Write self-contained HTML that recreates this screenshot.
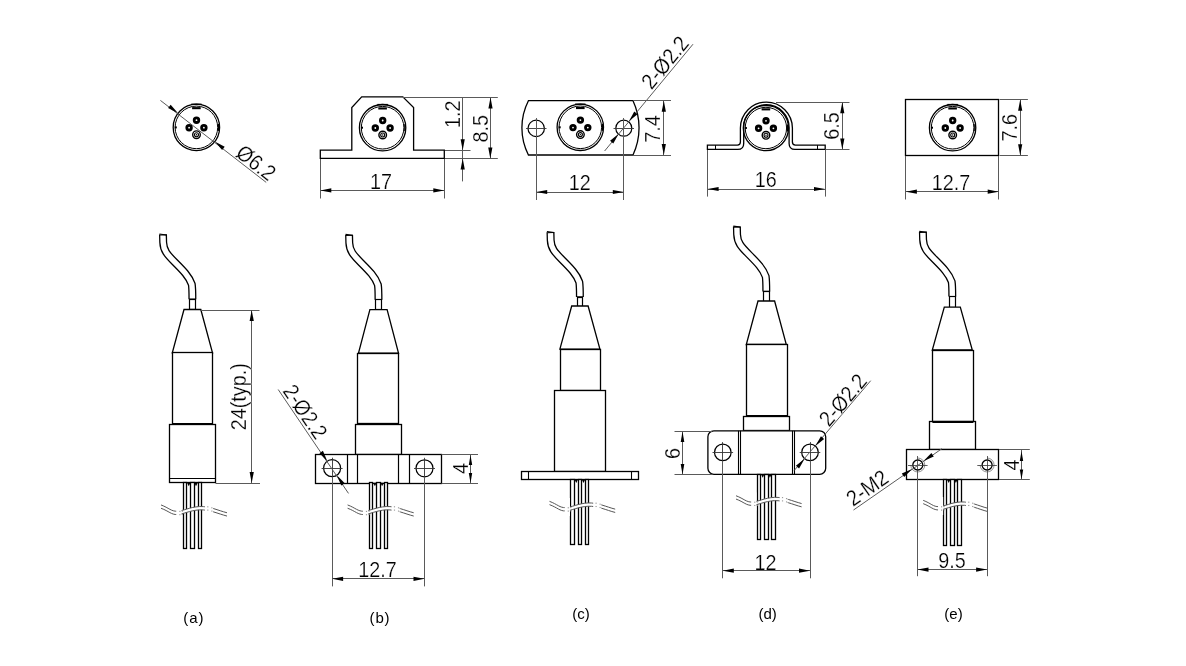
<!DOCTYPE html><html><head><meta charset="utf-8"><style>html,body{margin:0;padding:0;background:#fff;width:1186px;height:666px;overflow:hidden}svg{display:block;filter:grayscale(1);font-family:"Liberation Sans",sans-serif}</style></head><body><svg width="1186" height="666" viewBox="0 0 1186 666" font-family="Liberation Sans, sans-serif">
<rect width="1186" height="666" fill="#fff"/>
<circle cx="196.4" cy="127.4" r="23.2" fill="none" stroke="#000" stroke-width="1.3"/>
<circle cx="196.4" cy="127.4" r="21.3" fill="none" stroke="#000" stroke-width="1.0"/>
<rect x="191.2" y="103.6" width="10.4" height="1.4" fill="#000"/>
<rect x="192.1" y="107.1" width="8.6" height="2.1" fill="#000"/>
<rect x="174.8" y="126.4" width="2" height="2" fill="#000"/>
<rect x="218" y="123.9" width="1.2" height="7" fill="#000"/>
<circle cx="196.5" cy="120.2" r="2.3" fill="none" stroke="#000" stroke-width="2.8"/>
<circle cx="189.1" cy="127.7" r="2.3" fill="none" stroke="#000" stroke-width="2.8"/>
<circle cx="203.9" cy="127.7" r="2.3" fill="none" stroke="#000" stroke-width="2.8"/>
<circle cx="196.5" cy="134.7" r="3.8" fill="none" stroke="#000" stroke-width="1.4"/>
<circle cx="196.5" cy="134.7" r="2" fill="none" stroke="#000" stroke-width="1.1"/>
<circle cx="196.5" cy="134.7" r="0.7" fill="#000"/>
<line x1="160.4" y1="100.4" x2="266.2" y2="182.4" stroke="#5a5a5a" stroke-width="1.0"/>
<polygon points="178.06,113.19 168.08,108.11 170.65,104.79" fill="#000"/>
<polygon points="214.74,141.61 224.72,146.69 222.15,150.01" fill="#000"/>
<text x="0" y="0" transform="translate(234.5,155.5) rotate(37.78) scale(0.9,1)" font-size="22" text-anchor="start" fill="#000" stroke="#fff" stroke-width="0.25" >&#216;6.2</text>
<polygon points="320.3,158.3 320.3,150.2 351.8,150.2 351.8,107.5 361.7,96.9 402.8,96.9 413.6,107.5 413.6,150.2 444.3,150.2 444.3,158.3" fill="none" stroke="#000" stroke-width="1.3" stroke-linejoin="miter"/>
<circle cx="382.6" cy="127.7" r="23.2" fill="none" stroke="#000" stroke-width="1.3"/>
<circle cx="382.6" cy="127.7" r="21.3" fill="none" stroke="#000" stroke-width="1.0"/>
<rect x="377.4" y="103.9" width="10.4" height="1.4" fill="#000"/>
<rect x="378.3" y="107.4" width="8.6" height="2.1" fill="#000"/>
<rect x="361" y="126.7" width="2" height="2" fill="#000"/>
<rect x="404.2" y="124.2" width="1.2" height="7" fill="#000"/>
<circle cx="382.7" cy="120.5" r="2.3" fill="none" stroke="#000" stroke-width="2.8"/>
<circle cx="375.3" cy="128" r="2.3" fill="none" stroke="#000" stroke-width="2.8"/>
<circle cx="390.1" cy="128" r="2.3" fill="none" stroke="#000" stroke-width="2.8"/>
<circle cx="382.7" cy="135" r="3.8" fill="none" stroke="#000" stroke-width="1.4"/>
<circle cx="382.7" cy="135" r="2" fill="none" stroke="#000" stroke-width="1.1"/>
<circle cx="382.7" cy="135" r="0.7" fill="#000"/>
<line x1="320.5" y1="159" x2="320.5" y2="198.5" stroke="#5a5a5a" stroke-width="1.0"/>
<line x1="444.5" y1="159" x2="444.5" y2="198.5" stroke="#5a5a5a" stroke-width="1.0"/>
<line x1="320.3" y1="190.5" x2="444.3" y2="190.5" stroke="#5a5a5a" stroke-width="1.0"/>
<polygon points="320.3,190.4 331.3,188.3 331.3,192.5" fill="#000"/>
<polygon points="444.3,190.4 433.3,192.5 433.3,188.3" fill="#000"/>
<text x="0" y="0" transform="translate(381,189.4) rotate(0) scale(0.9,1)" font-size="22" text-anchor="middle" fill="#000" stroke="#fff" stroke-width="0.25" >17</text>
<line x1="403" y1="97.5" x2="497.8" y2="97.5" stroke="#5a5a5a" stroke-width="1.0"/>
<line x1="445" y1="150.5" x2="470.5" y2="150.5" stroke="#5a5a5a" stroke-width="1.0"/>
<line x1="445" y1="158.5" x2="497.8" y2="158.5" stroke="#5a5a5a" stroke-width="1.0"/>
<line x1="462.5" y1="97.2" x2="462.5" y2="181.4" stroke="#5a5a5a" stroke-width="1.0"/>
<polygon points="462.7,150.2 460.6,139.2 464.8,139.2" fill="#000"/>
<polygon points="462.7,158.4 464.8,169.4 460.6,169.4" fill="#000"/>
<text x="0" y="0" transform="translate(459.5,114.2) rotate(-90) scale(0.9,1)" font-size="22" text-anchor="middle" fill="#000" stroke="#fff" stroke-width="0.25" >1.2</text>
<line x1="490.5" y1="97.5" x2="490.5" y2="158.4" stroke="#5a5a5a" stroke-width="1.0"/>
<polygon points="490.5,97.5 492.6,108.5 488.4,108.5" fill="#000"/>
<polygon points="490.3,158.4 488.2,147.4 492.4,147.4" fill="#000"/>
<text x="0" y="0" transform="translate(487.5,128.7) rotate(-90) scale(0.9,1)" font-size="22" text-anchor="middle" fill="#000" stroke="#fff" stroke-width="0.25" >8.5</text>
<path d="M528.4,100.7 L633,100.7 A64,64 0 0 1 633,155 L528.4,155 A60,60 0 0 1 528.4,100.7 Z" fill="none" stroke="#000" stroke-width="1.3" />
<circle cx="580.3" cy="127.3" r="23.2" fill="none" stroke="#000" stroke-width="1.3"/>
<circle cx="580.3" cy="127.3" r="21.3" fill="none" stroke="#000" stroke-width="1.0"/>
<rect x="575.1" y="103.5" width="10.4" height="1.4" fill="#000"/>
<rect x="576" y="107" width="8.6" height="2.1" fill="#000"/>
<rect x="558.7" y="126.3" width="2" height="2" fill="#000"/>
<rect x="601.9" y="123.8" width="1.2" height="7" fill="#000"/>
<circle cx="580.4" cy="120.1" r="2.3" fill="none" stroke="#000" stroke-width="2.8"/>
<circle cx="573" cy="127.6" r="2.3" fill="none" stroke="#000" stroke-width="2.8"/>
<circle cx="587.8" cy="127.6" r="2.3" fill="none" stroke="#000" stroke-width="2.8"/>
<circle cx="580.4" cy="134.6" r="3.8" fill="none" stroke="#000" stroke-width="1.4"/>
<circle cx="580.4" cy="134.6" r="2" fill="none" stroke="#000" stroke-width="1.1"/>
<circle cx="580.4" cy="134.6" r="0.7" fill="#000"/>
<circle cx="536.2" cy="128.4" r="8.2" fill="#fff" stroke="#000" stroke-width="1.2"/>
<circle cx="623.8" cy="128.2" r="8" fill="#fff" stroke="#000" stroke-width="1.2"/>
<line x1="526" y1="128.5" x2="546.5" y2="128.5" stroke="#333" stroke-width="0.9"/>
<line x1="613.5" y1="128.5" x2="634" y2="128.5" stroke="#333" stroke-width="0.9"/>
<line x1="536.5" y1="118" x2="536.5" y2="200" stroke="#5a5a5a" stroke-width="1.0"/>
<line x1="623.5" y1="118" x2="623.5" y2="200" stroke="#5a5a5a" stroke-width="1.0"/>
<line x1="536.2" y1="192.5" x2="623.8" y2="192.5" stroke="#5a5a5a" stroke-width="1.0"/>
<polygon points="536.2,192 547.2,189.9 547.2,194.1" fill="#000"/>
<polygon points="623.8,192 612.8,194.1 612.8,189.9" fill="#000"/>
<text x="0" y="0" transform="translate(579.7,190.3) rotate(0) scale(0.9,1)" font-size="22" text-anchor="middle" fill="#000" stroke="#fff" stroke-width="0.25" >12</text>
<line x1="633" y1="100.5" x2="671" y2="100.5" stroke="#5a5a5a" stroke-width="1.0"/>
<line x1="633" y1="155.5" x2="671" y2="155.5" stroke="#5a5a5a" stroke-width="1.0"/>
<line x1="663.5" y1="100.7" x2="663.5" y2="155" stroke="#5a5a5a" stroke-width="1.0"/>
<polygon points="663.8,100.7 665.9,111.7 661.7,111.7" fill="#000"/>
<polygon points="663.8,155 661.7,144 665.9,144" fill="#000"/>
<text x="0" y="0" transform="translate(660.2,129) rotate(-90) scale(0.9,1)" font-size="22" text-anchor="middle" fill="#000" stroke="#fff" stroke-width="0.25" >7.4</text>
<line x1="604.6" y1="151" x2="693" y2="44.2" stroke="#5a5a5a" stroke-width="1.0"/>
<polygon points="618.7,133.66 613.3,143.48 610.07,140.8" fill="#000"/>
<polygon points="628.9,121.34 634.3,111.52 637.53,114.2" fill="#000"/>
<text x="0" y="0" transform="translate(651.5,90.5) rotate(-50.38) scale(0.9,1)" font-size="22" text-anchor="start" fill="#000" stroke="#fff" stroke-width="0.25" >2-&#216;2.2</text>
<path d="M707.4,145.1 L737.4,145.1 Q740.4,145.1 740.4,142.1 L740.4,128.1 A26,26 0 0 1 792.4,128.1 L792.4,142.1 Q792.4,145.1 795.4,145.1 L825.2,145.1 L825.2,149.4 L795,149.4 Q789.1,149.4 789.1,143.5 L789.1,127.4 A22.7,22.7 0 0 0 743.7,127.4 L743.7,143.5 Q743.7,149.4 737.8,149.4 L707.4,149.4 Z" fill="none" stroke="#000" stroke-width="1.3" />
<line x1="715.5" y1="145.1" x2="715.5" y2="149.4" stroke="#000" stroke-width="1.0"/>
<line x1="817.5" y1="145.1" x2="817.5" y2="149.4" stroke="#000" stroke-width="1.0"/>
<circle cx="765.9" cy="128" r="22.6" fill="none" stroke="#000" stroke-width="1.3"/>
<circle cx="765.9" cy="128" r="20.7" fill="none" stroke="#000" stroke-width="1.0"/>
<rect x="760.7" y="104.8" width="10.4" height="1.4" fill="#000"/>
<rect x="761.6" y="108.3" width="8.6" height="2.1" fill="#000"/>
<rect x="744.9" y="127" width="2" height="2" fill="#000"/>
<rect x="786.9" y="124.5" width="1.2" height="7" fill="#000"/>
<circle cx="766" cy="120.8" r="2.3" fill="none" stroke="#000" stroke-width="2.8"/>
<circle cx="758.6" cy="128.3" r="2.3" fill="none" stroke="#000" stroke-width="2.8"/>
<circle cx="773.4" cy="128.3" r="2.3" fill="none" stroke="#000" stroke-width="2.8"/>
<circle cx="766" cy="135.3" r="3.8" fill="none" stroke="#000" stroke-width="1.4"/>
<circle cx="766" cy="135.3" r="2" fill="none" stroke="#000" stroke-width="1.1"/>
<circle cx="766" cy="135.3" r="0.7" fill="#000"/>
<line x1="707.5" y1="150" x2="707.5" y2="196.6" stroke="#5a5a5a" stroke-width="1.0"/>
<line x1="825.5" y1="150" x2="825.5" y2="196.6" stroke="#5a5a5a" stroke-width="1.0"/>
<line x1="707.6" y1="189.5" x2="825" y2="189.5" stroke="#5a5a5a" stroke-width="1.0"/>
<polygon points="707.6,189 718.6,186.9 718.6,191.1" fill="#000"/>
<polygon points="825,189 814,191.1 814,186.9" fill="#000"/>
<text x="0" y="0" transform="translate(765.7,186.8) rotate(0) scale(0.9,1)" font-size="22" text-anchor="middle" fill="#000" stroke="#fff" stroke-width="0.25" >16</text>
<line x1="776" y1="102.5" x2="849.5" y2="102.5" stroke="#5a5a5a" stroke-width="1.0"/>
<line x1="825.5" y1="149.5" x2="849.5" y2="149.5" stroke="#5a5a5a" stroke-width="1.0"/>
<line x1="842.5" y1="102.3" x2="842.5" y2="149.5" stroke="#5a5a5a" stroke-width="1.0"/>
<polygon points="842.3,102.3 844.4,113.3 840.2,113.3" fill="#000"/>
<polygon points="842.3,149.5 840.2,138.5 844.4,138.5" fill="#000"/>
<text x="0" y="0" transform="translate(838.6,126) rotate(-90) scale(0.9,1)" font-size="22" text-anchor="middle" fill="#000" stroke="#fff" stroke-width="0.25" >6.5</text>
<rect x="905.5" y="99.5" width="93" height="56" fill="none" stroke="#000" stroke-width="1.3"/>
<circle cx="952.6" cy="127.7" r="23.2" fill="none" stroke="#000" stroke-width="1.3"/>
<circle cx="952.6" cy="127.7" r="21.3" fill="none" stroke="#000" stroke-width="1.0"/>
<rect x="947.4" y="103.9" width="10.4" height="1.4" fill="#000"/>
<rect x="948.3" y="107.4" width="8.6" height="2.1" fill="#000"/>
<rect x="931" y="126.7" width="2" height="2" fill="#000"/>
<rect x="974.2" y="124.2" width="1.2" height="7" fill="#000"/>
<circle cx="952.7" cy="120.5" r="2.3" fill="none" stroke="#000" stroke-width="2.8"/>
<circle cx="945.3" cy="128" r="2.3" fill="none" stroke="#000" stroke-width="2.8"/>
<circle cx="960.1" cy="128" r="2.3" fill="none" stroke="#000" stroke-width="2.8"/>
<circle cx="952.7" cy="135" r="3.8" fill="none" stroke="#000" stroke-width="1.4"/>
<circle cx="952.7" cy="135" r="2" fill="none" stroke="#000" stroke-width="1.1"/>
<circle cx="952.7" cy="135" r="0.7" fill="#000"/>
<line x1="905.5" y1="156" x2="905.5" y2="199.5" stroke="#5a5a5a" stroke-width="1.0"/>
<line x1="998.5" y1="156" x2="998.5" y2="199.5" stroke="#5a5a5a" stroke-width="1.0"/>
<line x1="905.9" y1="191.5" x2="998.7" y2="191.5" stroke="#5a5a5a" stroke-width="1.0"/>
<polygon points="905.9,191.7 916.9,189.6 916.9,193.8" fill="#000"/>
<polygon points="998.7,191.7 987.7,193.8 987.7,189.6" fill="#000"/>
<text x="0" y="0" transform="translate(950.9,190.4) rotate(0) scale(0.9,1)" font-size="22" text-anchor="middle" fill="#000" stroke="#fff" stroke-width="0.25" >12.7</text>
<line x1="999.5" y1="99.5" x2="1027.9" y2="99.5" stroke="#5a5a5a" stroke-width="1.0"/>
<line x1="999.5" y1="155.5" x2="1027.9" y2="155.5" stroke="#5a5a5a" stroke-width="1.0"/>
<line x1="1020.5" y1="99.8" x2="1020.5" y2="155.3" stroke="#5a5a5a" stroke-width="1.0"/>
<polygon points="1020.2,99.8 1022.3,110.8 1018.1,110.8" fill="#000"/>
<polygon points="1020.2,155.3 1018.1,144.3 1022.3,144.3" fill="#000"/>
<text x="0" y="0" transform="translate(1017,127.8) rotate(-90) scale(0.9,1)" font-size="22" text-anchor="middle" fill="#000" stroke="#fff" stroke-width="0.25" >7.6</text>
<path d="M163,234.4 L163.2,242.4 C163.5,250.4 167,254.4 175,262.4 C183,270.4 189,276.4 191.8,284.4 C192.4,288.4 192.4,292.4 192.4,299.3" fill="none" stroke="#000" stroke-width="8.0" stroke-linecap="butt"/>
<path d="M163,235.5 L163.2,242.4 C163.5,250.4 167,254.4 175,262.4 C183,270.4 189,276.4 191.8,284.4 C192.4,288.4 192.4,292.4 192.4,298.6" fill="none" stroke="#fff" stroke-width="5.4" stroke-linecap="butt"/>
<line x1="159.4" y1="234" x2="166.6" y2="235" stroke="#000" stroke-width="1.2"/>
<rect x="189.5" y="299.5" width="6" height="10" fill="#fff" stroke="#000" stroke-width="1.2"/>
<polygon points="184,309.5 200.8,309.5 212.5,352.9 172.3,352.9" fill="#fff" stroke="#000" stroke-width="1.3" stroke-linejoin="miter"/>
<rect x="172.5" y="352.5" width="40" height="72" fill="#fff" stroke="#000" stroke-width="1.3"/>
<rect x="169.5" y="424.5" width="46" height="58" fill="#fff" stroke="#000" stroke-width="1.3"/>
<line x1="169.2" y1="478.5" x2="215" y2="478.5" stroke="#000" stroke-width="1.2"/>
<line x1="172.1" y1="424" x2="212.8" y2="424" stroke="#000" stroke-width="2.0"/>
<rect x="183.5" y="482.5" width="3" height="66" fill="#fff" stroke="#000" stroke-width="1.3"/>
<rect x="190.5" y="482.5" width="4" height="66" fill="#fff" stroke="#000" stroke-width="1.3"/>
<rect x="198.5" y="482.5" width="3" height="66" fill="#fff" stroke="#000" stroke-width="1.3"/>
<polygon points="187,482.8 190.5,482.8 188.8,486.3" fill="#000"/>
<polygon points="194.3,482.8 197.8,482.8 196,486.3" fill="#000"/>
<path d="M161,504.95 C169.12,507.95 171.15,511.45 177.25,511.25 C183.34,510.95 189.43,507.15 199.58,506.55 C209.74,506.15 217.86,510.45 227,512.75 L227,516.05 C217.86,513.75 209.74,509.45 199.58,509.85 C189.43,510.45 183.34,514.25 177.25,514.55 C171.15,514.75 169.12,511.25 161,508.25 Z" fill="#fff" stroke="none"/>
<path d="M161,504.95 C169.12,507.95 171.15,511.45 177.25,511.25 C183.34,510.95 189.43,507.15 199.58,506.55 C209.74,506.15 217.86,510.45 227,512.75" fill="none" stroke="#555" stroke-width="1.0" />
<path d="M161,508.25 C169.12,511.25 171.15,514.75 177.25,514.55 C183.34,514.25 189.43,510.45 199.58,509.85 C209.74,509.45 217.86,513.75 227,516.05" fill="none" stroke="#555" stroke-width="1.0" />
<rect x="176.23" y="501.6" width="5.28" height="18" fill="#fff"/>
<rect x="204.86" y="501.6" width="8.12" height="18" fill="#fff"/>
<rect x="179.28" y="510.85" width="1.2" height="1.1" fill="#999"/>
<rect x="179.28" y="514.15" width="1.2" height="1.1" fill="#999"/>
<rect x="181.82" y="510.65" width="1.2" height="1.1" fill="#999"/>
<rect x="181.82" y="513.95" width="1.2" height="1.1" fill="#999"/>
<rect x="207.2" y="506.25" width="1.2" height="1.1" fill="#999"/>
<rect x="207.2" y="509.55" width="1.2" height="1.1" fill="#999"/>
<rect x="211.26" y="507.25" width="1.2" height="1.1" fill="#999"/>
<rect x="211.26" y="510.55" width="1.2" height="1.1" fill="#999"/>
<line x1="200.7" y1="310.5" x2="259.5" y2="310.5" stroke="#5a5a5a" stroke-width="1.0"/>
<line x1="215.5" y1="483.5" x2="260" y2="483.5" stroke="#5a5a5a" stroke-width="1.0"/>
<line x1="251.5" y1="310.1" x2="251.5" y2="483" stroke="#5a5a5a" stroke-width="1.0"/>
<polygon points="251.7,310.1 253.8,321.1 249.6,321.1" fill="#000"/>
<polygon points="251.7,483 249.6,472 253.8,472" fill="#000"/>
<text x="0" y="0" transform="translate(245.5,396.7) rotate(-90) scale(0.9,1)" font-size="22" text-anchor="middle" fill="#000" stroke="#fff" stroke-width="0.25" >24(typ.)</text>
<path d="M349.1,234.8 L349.3,242.8 C349.6,250.8 353.1,254.8 361.1,262.8 C369.1,270.8 375.1,276.8 377.9,284.8 C378.5,288.8 378.5,292.8 378.5,299.7" fill="none" stroke="#000" stroke-width="8.0" stroke-linecap="butt"/>
<path d="M349.1,235.9 L349.3,242.8 C349.6,250.8 353.1,254.8 361.1,262.8 C369.1,270.8 375.1,276.8 377.9,284.8 C378.5,288.8 378.5,292.8 378.5,299" fill="none" stroke="#fff" stroke-width="5.4" stroke-linecap="butt"/>
<line x1="345.5" y1="234.4" x2="352.7" y2="235.4" stroke="#000" stroke-width="1.2"/>
<rect x="375.5" y="299.5" width="6" height="10" fill="#fff" stroke="#000" stroke-width="1.2"/>
<polygon points="369.9,309.7 387.1,309.7 398.5,353.2 358.5,353.2" fill="#fff" stroke="#000" stroke-width="1.3" stroke-linejoin="miter"/>
<rect x="357.5" y="353.5" width="41" height="70" fill="#fff" stroke="#000" stroke-width="1.3"/>
<rect x="355.5" y="424.5" width="46" height="30" fill="#fff" stroke="#000" stroke-width="1.3"/>
<line x1="357.8" y1="424" x2="398.2" y2="424" stroke="#000" stroke-width="2.0"/>
<rect x="315.5" y="454.5" width="126" height="29" fill="#fff" stroke="#000" stroke-width="1.3"/>
<line x1="347.5" y1="454.1" x2="347.5" y2="483.3" stroke="#000" stroke-width="1.2"/>
<line x1="357.5" y1="454.1" x2="357.5" y2="483.3" stroke="#000" stroke-width="1.2"/>
<line x1="398.5" y1="454.1" x2="398.5" y2="483.3" stroke="#000" stroke-width="1.2"/>
<line x1="409.5" y1="454.1" x2="409.5" y2="483.3" stroke="#000" stroke-width="1.2"/>
<rect x="369.5" y="482.5" width="3" height="66" fill="#fff" stroke="#000" stroke-width="1.3"/>
<rect x="376.5" y="482.5" width="4" height="66" fill="#fff" stroke="#000" stroke-width="1.3"/>
<rect x="384.5" y="482.5" width="3" height="66" fill="#fff" stroke="#000" stroke-width="1.3"/>
<polygon points="373.1,482.8 376.6,482.8 374.9,486.3" fill="#000"/>
<polygon points="380.4,482.8 383.9,482.8 382.1,486.3" fill="#000"/>
<path d="M347.6,504.95 C355.74,507.95 357.77,511.45 363.87,511.25 C369.97,510.95 376.07,507.15 386.24,506.55 C396.41,506.15 404.55,510.45 413.7,512.75 L413.7,516.05 C404.55,513.75 396.41,509.45 386.24,509.85 C376.07,510.45 369.97,514.25 363.87,514.55 C357.77,514.75 355.74,511.25 347.6,508.25 Z" fill="#fff" stroke="none"/>
<path d="M347.6,504.95 C355.74,507.95 357.77,511.45 363.87,511.25 C369.97,510.95 376.07,507.15 386.24,506.55 C396.41,506.15 404.55,510.45 413.7,512.75" fill="none" stroke="#555" stroke-width="1.0" />
<path d="M347.6,508.25 C355.74,511.25 357.77,514.75 363.87,514.55 C369.97,514.25 376.07,510.45 386.24,509.85 C396.41,509.45 404.55,513.75 413.7,516.05" fill="none" stroke="#555" stroke-width="1.0" />
<rect x="362.85" y="501.6" width="5.29" height="18" fill="#fff"/>
<rect x="391.53" y="501.6" width="8.14" height="18" fill="#fff"/>
<rect x="365.9" y="510.85" width="1.2" height="1.1" fill="#999"/>
<rect x="365.9" y="514.15" width="1.2" height="1.1" fill="#999"/>
<rect x="368.45" y="510.65" width="1.2" height="1.1" fill="#999"/>
<rect x="368.45" y="513.95" width="1.2" height="1.1" fill="#999"/>
<rect x="393.87" y="506.25" width="1.2" height="1.1" fill="#999"/>
<rect x="393.87" y="509.55" width="1.2" height="1.1" fill="#999"/>
<rect x="397.94" y="507.25" width="1.2" height="1.1" fill="#999"/>
<rect x="397.94" y="510.55" width="1.2" height="1.1" fill="#999"/>
<circle cx="332.1" cy="468.2" r="8.5" fill="#fff" stroke="#000" stroke-width="1.2"/>
<line x1="321.6" y1="468.5" x2="342.6" y2="468.5" stroke="#333" stroke-width="0.9"/>
<line x1="332.5" y1="457.7" x2="332.5" y2="478.7" stroke="#333" stroke-width="0.9"/>
<circle cx="424.5" cy="468.3" r="8.5" fill="#fff" stroke="#000" stroke-width="1.2"/>
<line x1="414" y1="468.5" x2="435" y2="468.5" stroke="#333" stroke-width="0.9"/>
<line x1="424.5" y1="457.8" x2="424.5" y2="478.8" stroke="#333" stroke-width="0.9"/>
<line x1="332.5" y1="477" x2="332.5" y2="586.4" stroke="#5a5a5a" stroke-width="1.0"/>
<line x1="424.5" y1="477" x2="424.5" y2="586.4" stroke="#5a5a5a" stroke-width="1.0"/>
<line x1="332.1" y1="578.5" x2="424.5" y2="578.5" stroke="#5a5a5a" stroke-width="1.0"/>
<polygon points="332.1,578.8 343.1,576.7 343.1,580.9" fill="#000"/>
<polygon points="424.5,578.8 413.5,580.9 413.5,576.7" fill="#000"/>
<text x="0" y="0" transform="translate(377.4,577.3) rotate(0) scale(0.9,1)" font-size="22" text-anchor="middle" fill="#000" stroke="#fff" stroke-width="0.25" >12.7</text>
<line x1="441.5" y1="454.5" x2="478" y2="454.5" stroke="#5a5a5a" stroke-width="1.0"/>
<line x1="441.5" y1="483.5" x2="478" y2="483.5" stroke="#5a5a5a" stroke-width="1.0"/>
<line x1="470.5" y1="454.3" x2="470.5" y2="483.3" stroke="#5a5a5a" stroke-width="1.0"/>
<polygon points="470.5,455 472.2,465 468.8,465" fill="#000"/>
<polygon points="470.5,483 468.8,473 472.2,473" fill="#000"/>
<text x="0" y="0" transform="translate(467.8,468.6) rotate(-90) scale(0.9,1)" font-size="22" text-anchor="middle" fill="#000" stroke="#fff" stroke-width="0.25" >4</text>
<line x1="278.2" y1="389.5" x2="348.5" y2="493.4" stroke="#5a5a5a" stroke-width="1.0"/>
<polygon points="327.34,461.16 319.43,453.23 322.91,450.87" fill="#000"/>
<polygon points="336.86,475.24 344.77,483.17 341.29,485.53" fill="#000"/>
<text x="0" y="0" transform="translate(282,390.9) rotate(55.92) scale(0.9,1)" font-size="22" text-anchor="start" fill="#000" stroke="#fff" stroke-width="0.25" >2-&#216;2.2</text>
<path d="M550.5,232.1 L550.7,240.1 C551,248.1 554.5,252.1 562.5,260.1 C570.5,268.1 576.5,274.1 579.3,282.1 C579.9,286.1 579.9,290.1 579.9,297" fill="none" stroke="#000" stroke-width="8.0" stroke-linecap="butt"/>
<path d="M550.5,233.2 L550.7,240.1 C551,248.1 554.5,252.1 562.5,260.1 C570.5,268.1 576.5,274.1 579.3,282.1 C579.9,286.1 579.9,290.1 579.9,296.3" fill="none" stroke="#fff" stroke-width="5.4" stroke-linecap="butt"/>
<line x1="546.9" y1="231.7" x2="554.1" y2="232.7" stroke="#000" stroke-width="1.2"/>
<rect x="577.5" y="297.5" width="5" height="9" fill="#fff" stroke="#000" stroke-width="1.2"/>
<polygon points="571.7,306 588.1,306 599.9,349.2 559.9,349.2" fill="#fff" stroke="#000" stroke-width="1.3" stroke-linejoin="miter"/>
<rect x="560.5" y="349.5" width="40" height="41" fill="#fff" stroke="#000" stroke-width="1.3"/>
<rect x="554.5" y="390.5" width="51" height="81" fill="#fff" stroke="#000" stroke-width="1.3"/>
<rect x="521.5" y="471.5" width="117" height="8" fill="#fff" stroke="#000" stroke-width="1.3"/>
<line x1="528.5" y1="471.4" x2="528.5" y2="479.5" stroke="#000" stroke-width="1.1"/>
<line x1="631.5" y1="471.4" x2="631.5" y2="479.5" stroke="#000" stroke-width="1.1"/>
<rect x="570.5" y="479.5" width="4" height="65" fill="#fff" stroke="#000" stroke-width="1.3"/>
<rect x="578.5" y="479.5" width="3" height="65" fill="#fff" stroke="#000" stroke-width="1.3"/>
<rect x="585.5" y="479.5" width="3" height="65" fill="#fff" stroke="#000" stroke-width="1.3"/>
<polygon points="574.5,479.5 578,479.5 576.3,483" fill="#000"/>
<polygon points="581.8,479.5 585.3,479.5 583.5,483" fill="#000"/>
<path d="M549.5,501.35 C557.59,504.35 559.61,507.85 565.67,507.65 C571.74,507.35 577.8,503.55 587.91,502.95 C598.02,502.55 606.1,506.85 615.2,509.15 L615.2,512.45 C606.1,510.15 598.02,505.85 587.91,506.25 C577.8,506.85 571.74,510.65 565.67,510.95 C559.61,511.15 557.59,507.65 549.5,504.65 Z" fill="#fff" stroke="none"/>
<path d="M549.5,501.35 C557.59,504.35 559.61,507.85 565.67,507.65 C571.74,507.35 577.8,503.55 587.91,502.95 C598.02,502.55 606.1,506.85 615.2,509.15" fill="none" stroke="#555" stroke-width="1.0" />
<path d="M549.5,504.65 C557.59,507.65 559.61,511.15 565.67,510.95 C571.74,510.65 577.8,506.85 587.91,506.25 C598.02,505.85 606.1,510.15 615.2,512.45" fill="none" stroke="#555" stroke-width="1.0" />
<rect x="564.66" y="498" width="5.26" height="18" fill="#fff"/>
<rect x="593.17" y="498" width="8.09" height="18" fill="#fff"/>
<rect x="567.69" y="507.25" width="1.2" height="1.1" fill="#999"/>
<rect x="567.69" y="510.55" width="1.2" height="1.1" fill="#999"/>
<rect x="570.22" y="507.05" width="1.2" height="1.1" fill="#999"/>
<rect x="570.22" y="510.35" width="1.2" height="1.1" fill="#999"/>
<rect x="595.49" y="502.65" width="1.2" height="1.1" fill="#999"/>
<rect x="595.49" y="505.95" width="1.2" height="1.1" fill="#999"/>
<rect x="599.53" y="503.65" width="1.2" height="1.1" fill="#999"/>
<rect x="599.53" y="506.95" width="1.2" height="1.1" fill="#999"/>
<path d="M736.9,226.5 L737.1,234.5 C737.4,242.5 740.9,246.5 748.9,254.5 C756.9,262.5 762.9,268.5 765.7,276.5 C766.3,280.5 766.3,284.5 766.3,291.4" fill="none" stroke="#000" stroke-width="8.0" stroke-linecap="butt"/>
<path d="M736.9,227.6 L737.1,234.5 C737.4,242.5 740.9,246.5 748.9,254.5 C756.9,262.5 762.9,268.5 765.7,276.5 C766.3,280.5 766.3,284.5 766.3,290.7" fill="none" stroke="#fff" stroke-width="5.4" stroke-linecap="butt"/>
<line x1="733.3" y1="226.1" x2="740.5" y2="227.1" stroke="#000" stroke-width="1.2"/>
<rect x="763.5" y="291.5" width="6" height="10" fill="#fff" stroke="#000" stroke-width="1.2"/>
<polygon points="758,301 774.6,301 786.3,344.5 746.3,344.5" fill="#fff" stroke="#000" stroke-width="1.3" stroke-linejoin="miter"/>
<rect x="746.5" y="344.5" width="41" height="72" fill="#fff" stroke="#000" stroke-width="1.3"/>
<rect x="743.5" y="416.5" width="46" height="14" fill="#fff" stroke="#000" stroke-width="1.3"/>
<line x1="746.2" y1="416" x2="787.2" y2="416" stroke="#000" stroke-width="2.0"/>
<rect x="707.9" y="430.8" width="117.8" height="43.5" rx="6" ry="6" fill="#fff" stroke="#000" stroke-width="1.3"/>
<line x1="738.5" y1="430.8" x2="738.5" y2="474.3" stroke="#000" stroke-width="1.1"/>
<line x1="740.5" y1="430.8" x2="740.5" y2="474.3" stroke="#000" stroke-width="1.1"/>
<line x1="792.5" y1="430.8" x2="792.5" y2="474.3" stroke="#000" stroke-width="1.1"/>
<line x1="794.5" y1="430.8" x2="794.5" y2="474.3" stroke="#000" stroke-width="1.1"/>
<rect x="757.5" y="474.5" width="3" height="65" fill="#fff" stroke="#000" stroke-width="1.3"/>
<rect x="764.5" y="474.5" width="4" height="65" fill="#fff" stroke="#000" stroke-width="1.3"/>
<rect x="771.5" y="474.5" width="4" height="65" fill="#fff" stroke="#000" stroke-width="1.3"/>
<polygon points="760.9,474.3 764.4,474.3 762.7,477.8" fill="#000"/>
<polygon points="768.2,474.3 771.7,474.3 769.9,477.8" fill="#000"/>
<path d="M736,495.75 C744.07,498.75 746.09,502.25 752.15,502.05 C758.2,501.75 764.26,497.95 774.35,497.35 C784.44,496.95 792.52,501.25 801.6,503.55 L801.6,506.85 C792.52,504.55 784.44,500.25 774.35,500.65 C764.26,501.25 758.2,505.05 752.15,505.35 C746.09,505.55 744.07,502.05 736,499.05 Z" fill="#fff" stroke="none"/>
<path d="M736,495.75 C744.07,498.75 746.09,502.25 752.15,502.05 C758.2,501.75 764.26,497.95 774.35,497.35 C784.44,496.95 792.52,501.25 801.6,503.55" fill="none" stroke="#555" stroke-width="1.0" />
<path d="M736,499.05 C744.07,502.05 746.09,505.55 752.15,505.35 C758.2,505.05 764.26,501.25 774.35,500.65 C784.44,500.25 792.52,504.55 801.6,506.85" fill="none" stroke="#555" stroke-width="1.0" />
<rect x="751.14" y="492.4" width="5.25" height="18" fill="#fff"/>
<rect x="779.6" y="492.4" width="8.07" height="18" fill="#fff"/>
<rect x="754.17" y="501.65" width="1.2" height="1.1" fill="#999"/>
<rect x="754.17" y="504.95" width="1.2" height="1.1" fill="#999"/>
<rect x="756.69" y="501.45" width="1.2" height="1.1" fill="#999"/>
<rect x="756.69" y="504.75" width="1.2" height="1.1" fill="#999"/>
<rect x="781.92" y="497.05" width="1.2" height="1.1" fill="#999"/>
<rect x="781.92" y="500.35" width="1.2" height="1.1" fill="#999"/>
<rect x="785.96" y="498.05" width="1.2" height="1.1" fill="#999"/>
<rect x="785.96" y="501.35" width="1.2" height="1.1" fill="#999"/>
<circle cx="722.8" cy="452.4" r="8.3" fill="#fff" stroke="#000" stroke-width="1.2"/>
<line x1="712.5" y1="452.5" x2="733.1" y2="452.5" stroke="#333" stroke-width="0.9"/>
<line x1="722.5" y1="442.1" x2="722.5" y2="462.7" stroke="#333" stroke-width="0.9"/>
<circle cx="810" cy="452.4" r="8.3" fill="#fff" stroke="#000" stroke-width="1.2"/>
<line x1="799.7" y1="452.5" x2="820.3" y2="452.5" stroke="#333" stroke-width="0.9"/>
<line x1="810.5" y1="442.1" x2="810.5" y2="462.7" stroke="#333" stroke-width="0.9"/>
<line x1="722.5" y1="461" x2="722.5" y2="578.3" stroke="#5a5a5a" stroke-width="1.0"/>
<line x1="810.5" y1="461" x2="810.5" y2="578.3" stroke="#5a5a5a" stroke-width="1.0"/>
<line x1="722.8" y1="570.5" x2="810" y2="570.5" stroke="#5a5a5a" stroke-width="1.0"/>
<polygon points="722.8,570.7 733.8,568.6 733.8,572.8" fill="#000"/>
<polygon points="810,570.7 799,572.8 799,568.6" fill="#000"/>
<text x="0" y="0" transform="translate(765.4,569.6) rotate(0) scale(0.9,1)" font-size="22" text-anchor="middle" fill="#000" stroke="#fff" stroke-width="0.25" >12</text>
<line x1="674.5" y1="431.5" x2="712" y2="431.5" stroke="#5a5a5a" stroke-width="1.0"/>
<line x1="674.5" y1="474.5" x2="712" y2="474.5" stroke="#5a5a5a" stroke-width="1.0"/>
<line x1="682.5" y1="431.2" x2="682.5" y2="474.6" stroke="#5a5a5a" stroke-width="1.0"/>
<polygon points="682.5,431.5 684.3,442 680.7,442" fill="#000"/>
<polygon points="682.5,474.5 680.7,464 684.3,464" fill="#000"/>
<text x="0" y="0" transform="translate(680.2,453.5) rotate(-90) scale(0.9,1)" font-size="22" text-anchor="middle" fill="#000" stroke="#fff" stroke-width="0.25" >6</text>
<line x1="794.1" y1="470.6" x2="870.7" y2="380.7" stroke="#5a5a5a" stroke-width="1.0"/>
<polygon points="804.62,458.72 799.08,468.45 795.88,465.73" fill="#000"/>
<polygon points="815.38,446.08 820.92,436.35 824.12,439.07" fill="#000"/>
<text x="0" y="0" transform="translate(829,427.8) rotate(-49.57) scale(0.9,1)" font-size="22" text-anchor="start" fill="#000" stroke="#fff" stroke-width="0.25" >2-&#216;2.2</text>
<path d="M922.9,231.7 L923.1,239.7 C923.4,247.7 926.9,251.7 934.9,259.7 C942.9,267.7 948.9,273.7 951.7,281.7 C952.3,285.7 952.3,289.7 952.3,296.6" fill="none" stroke="#000" stroke-width="8.0" stroke-linecap="butt"/>
<path d="M922.9,232.8 L923.1,239.7 C923.4,247.7 926.9,251.7 934.9,259.7 C942.9,267.7 948.9,273.7 951.7,281.7 C952.3,285.7 952.3,289.7 952.3,295.9" fill="none" stroke="#fff" stroke-width="5.4" stroke-linecap="butt"/>
<line x1="919.3" y1="231.3" x2="926.5" y2="232.3" stroke="#000" stroke-width="1.2"/>
<rect x="949.5" y="296.5" width="6" height="11" fill="#fff" stroke="#000" stroke-width="1.2"/>
<polygon points="944.3,307.1 960.3,307.1 972.3,350 932.3,350" fill="#fff" stroke="#000" stroke-width="1.3" stroke-linejoin="miter"/>
<rect x="932.5" y="350.5" width="41" height="71" fill="#fff" stroke="#000" stroke-width="1.3"/>
<rect x="929.5" y="421.5" width="46" height="28" fill="#fff" stroke="#000" stroke-width="1.3"/>
<line x1="932.4" y1="422" x2="973.4" y2="422" stroke="#000" stroke-width="2.0"/>
<rect x="906.5" y="449.5" width="92" height="30" fill="#fff" stroke="#000" stroke-width="1.3"/>
<rect x="943.5" y="479.5" width="3" height="66" fill="#fff" stroke="#000" stroke-width="1.3"/>
<rect x="950.5" y="479.5" width="4" height="66" fill="#fff" stroke="#000" stroke-width="1.3"/>
<rect x="957.5" y="479.5" width="4" height="66" fill="#fff" stroke="#000" stroke-width="1.3"/>
<polygon points="946.9,479.5 950.4,479.5 948.7,483" fill="#000"/>
<polygon points="954.2,479.5 957.7,479.5 955.9,483" fill="#000"/>
<path d="M923.2,500.35 C931.1,503.35 933.08,506.85 939,506.65 C944.93,506.35 950.86,502.55 960.73,501.95 C970.61,501.55 978.51,505.85 987.4,508.15 L987.4,511.45 C978.51,509.15 970.61,504.85 960.73,505.25 C950.86,505.85 944.93,509.65 939,509.95 C933.08,510.15 931.1,506.65 923.2,503.65 Z" fill="#fff" stroke="none"/>
<path d="M923.2,500.35 C931.1,503.35 933.08,506.85 939,506.65 C944.93,506.35 950.86,502.55 960.73,501.95 C970.61,501.55 978.51,505.85 987.4,508.15" fill="none" stroke="#555" stroke-width="1.0" />
<path d="M923.2,503.65 C931.1,506.65 933.08,510.15 939,509.95 C944.93,509.65 950.86,505.85 960.73,505.25 C970.61,504.85 978.51,509.15 987.4,511.45" fill="none" stroke="#555" stroke-width="1.0" />
<rect x="938.02" y="497" width="5.14" height="18" fill="#fff"/>
<rect x="965.87" y="497" width="7.9" height="18" fill="#fff"/>
<rect x="940.98" y="506.25" width="1.2" height="1.1" fill="#999"/>
<rect x="940.98" y="509.55" width="1.2" height="1.1" fill="#999"/>
<rect x="943.45" y="506.05" width="1.2" height="1.1" fill="#999"/>
<rect x="943.45" y="509.35" width="1.2" height="1.1" fill="#999"/>
<rect x="968.14" y="501.65" width="1.2" height="1.1" fill="#999"/>
<rect x="968.14" y="504.95" width="1.2" height="1.1" fill="#999"/>
<rect x="972.09" y="502.65" width="1.2" height="1.1" fill="#999"/>
<rect x="972.09" y="505.95" width="1.2" height="1.1" fill="#999"/>
<circle cx="917.8" cy="465" r="5" fill="#fff" stroke="#000" stroke-width="1.3"/>
<path d="M917.8,458 A7,7 0 1 1 910.8,465" fill="none" stroke="#777" stroke-width="0.8"/>
<line x1="908" y1="465.5" x2="927.6" y2="465.5" stroke="#333" stroke-width="0.8"/>
<line x1="917.5" y1="456" x2="917.5" y2="474" stroke="#333" stroke-width="0.8"/>
<circle cx="987.1" cy="465" r="5" fill="#fff" stroke="#000" stroke-width="1.3"/>
<path d="M987.1,458 A7,7 0 1 1 980.1,465" fill="none" stroke="#777" stroke-width="0.8"/>
<line x1="977.3" y1="465.5" x2="996.9" y2="465.5" stroke="#333" stroke-width="0.8"/>
<line x1="987.5" y1="456" x2="987.5" y2="474" stroke="#333" stroke-width="0.8"/>
<line x1="917.5" y1="472" x2="917.5" y2="576.2" stroke="#5a5a5a" stroke-width="1.0"/>
<line x1="987.5" y1="472" x2="987.5" y2="576.2" stroke="#5a5a5a" stroke-width="1.0"/>
<line x1="917.8" y1="569.5" x2="987.1" y2="569.5" stroke="#5a5a5a" stroke-width="1.0"/>
<polygon points="917.5,569.6 928.5,567.5 928.5,571.7" fill="#000"/>
<polygon points="987.1,569.6 976.1,571.7 976.1,567.5" fill="#000"/>
<text x="0" y="0" transform="translate(952,567.8) rotate(0) scale(0.9,1)" font-size="22" text-anchor="middle" fill="#000" stroke="#fff" stroke-width="0.25" >9.5</text>
<line x1="999" y1="449.5" x2="1029.8" y2="449.5" stroke="#5a5a5a" stroke-width="1.0"/>
<line x1="999" y1="479.5" x2="1029.8" y2="479.5" stroke="#5a5a5a" stroke-width="1.0"/>
<line x1="1021.5" y1="449.9" x2="1021.5" y2="479.9" stroke="#5a5a5a" stroke-width="1.0"/>
<polygon points="1021.5,451 1023.2,461 1019.8,461" fill="#000"/>
<polygon points="1021.5,479.5 1019.8,469.5 1023.2,469.5" fill="#000"/>
<text x="0" y="0" transform="translate(1018.7,465) rotate(-90) scale(0.9,1)" font-size="22" text-anchor="middle" fill="#000" stroke="#fff" stroke-width="0.25" >4</text>
<line x1="853.5" y1="510" x2="942" y2="448.6" stroke="#5a5a5a" stroke-width="1.0"/>
<polygon points="912.05,468.99 904.21,476.99 901.81,473.54" fill="#000"/>
<polygon points="923.55,461.01 931.39,453.01 933.79,456.46" fill="#000"/>
<text x="0" y="0" transform="translate(853,507) rotate(-34.75) scale(0.9,1)" font-size="22" text-anchor="start" fill="#000" stroke="#fff" stroke-width="0.25" >2-M2</text>
<text x="0" y="0" transform="translate(193.8,622.5) rotate(0) scale(1,1)" font-size="15" text-anchor="middle" fill="#000" letter-spacing="0.9">(a)</text>
<text x="0" y="0" transform="translate(380,622.5) rotate(0) scale(1,1)" font-size="15" text-anchor="middle" fill="#000" letter-spacing="0.9">(b)</text>
<text x="0" y="0" transform="translate(581,619.2) rotate(0) scale(1,1)" font-size="15" text-anchor="middle" fill="#000" letter-spacing="0">(c)</text>
<text x="0" y="0" transform="translate(767.7,619.2) rotate(0) scale(1,1)" font-size="15" text-anchor="middle" fill="#000" letter-spacing="0">(d)</text>
<text x="0" y="0" transform="translate(953.5,619.2) rotate(0) scale(1,1)" font-size="15" text-anchor="middle" fill="#000" letter-spacing="0">(e)</text>
</svg></body></html>
